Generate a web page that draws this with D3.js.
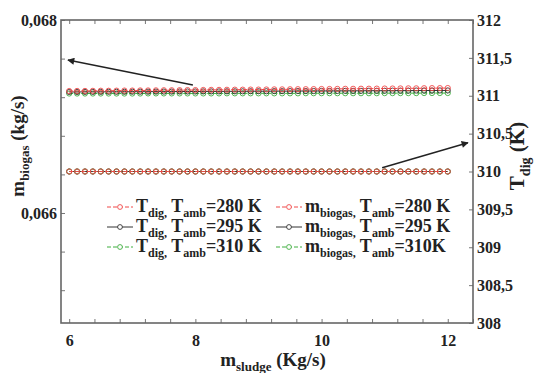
<!DOCTYPE html>
<html><head><meta charset="utf-8">
<script src="https://cdn.jsdelivr.net/npm/d3@7"></script>
<style>
body{margin:0;background:#fff}
svg{display:block}
text{font-family:"Liberation Serif","Times New Roman",serif;font-weight:bold;fill:#222}
</style>
</head><body>
<svg id="chart" width="534" height="373"></svg>
<script>
// Sludge mass flow (kg/s)
const sludgeFlow = [6, 6.125, 6.25, 6.375, 6.5, 6.625, 6.75, 6.875, 7, 7.125, 7.25, 7.375, 7.5, 7.625, 7.75, 7.875,
  8, 8.125, 8.25, 8.375, 8.5, 8.625, 8.75, 8.875, 9, 9.125, 9.25, 9.375, 9.5, 9.625, 9.75, 9.875,
  10, 10.125, 10.25, 10.375, 10.5, 10.625, 10.75, 10.875, 11, 11.125, 11.25, 11.375, 11.5, 11.625, 11.75, 11.875, 12];

// Digester temperature (K), right axis
const tDig280 = [310,310,310,310,310,310,310,310,310,310,310,310,310,310,310,310,310,310,310,310,310,310,310,310,310,
  310,310,310,310,310,310,310,310,310,310,310,310,310,310,310,310,310,310,310,310,310,310,310,310];
const tDig295 = [310,310,310,310,310,310,310,310,310,310,310,310,310,310,310,310,310,310,310,310,310,310,310,310,310,
  310,310,310,310,310,310,310,310,310,310,310,310,310,310,310,310,310,310,310,310,310,310,310,310];
const tDig310 = [310,310,310,310,310,310,310,310,310,310,310,310,310,310,310,310,310,310,310,310,310,310,310,310,310,
  310,310,310,310,310,310,310,310,310,310,310,310,310,310,310,310,310,310,310,310,310,310,310,310];

// Biogas mass flow (kg/s), left axis
const mBiogas280 = [0.067264,0.067265,0.067265,0.067266,0.067267,0.067267,0.067268,0.067269,0.067269,0.067270,
  0.067270,0.067271,0.067272,0.067272,0.067273,0.067274,0.067274,0.067275,0.067276,0.067276,
  0.067277,0.067278,0.067278,0.067279,0.067279,0.067280,0.067281,0.067281,0.067282,0.067283,
  0.067283,0.067284,0.067285,0.067285,0.067286,0.067287,0.067287,0.067288,0.067288,0.067289,
  0.067290,0.067290,0.067291,0.067292,0.067292,0.067293,0.067294,0.067294,0.067295];
const mBiogas295 = [0.067254,0.067254,0.067255,0.067255,0.067255,0.067256,0.067256,0.067256,0.067257,0.067257,
  0.067257,0.067258,0.067258,0.067258,0.067259,0.067259,0.067259,0.067260,0.067260,0.067260,
  0.067261,0.067261,0.067261,0.067262,0.067262,0.067262,0.067263,0.067263,0.067263,0.067264,
  0.067264,0.067264,0.067265,0.067265,0.067265,0.067266,0.067266,0.067266,0.067267,0.067267,
  0.067267,0.067268,0.067268,0.067268,0.067269,0.067269,0.067269,0.067270,0.067270];
const mBiogas310 = [0.067238,0.067238,0.067238,0.067238,0.067238,0.067238,0.067238,0.067238,0.067238,0.067238,
  0.067239,0.067239,0.067239,0.067239,0.067239,0.067239,0.067239,0.067239,0.067239,0.067239,
  0.067240,0.067240,0.067240,0.067240,0.067240,0.067240,0.067240,0.067240,0.067240,0.067240,
  0.067241,0.067241,0.067241,0.067241,0.067241,0.067241,0.067241,0.067241,0.067241,0.067241,
  0.067242,0.067242,0.067242,0.067242,0.067242,0.067243,0.067243,0.067243,0.067243];

// Tick values
const xMinorTicks = [6, 6.4, 6.8, 7.2, 7.6, 8, 8.4, 8.8, 9.2, 9.6, 10, 10.4, 10.8, 11.2, 11.6, 12, 12.4];
const xLabelTicks = [6, 8, 10, 12];
const leftMinorTicks = [0.068, 0.0676, 0.0672, 0.0668, 0.0664, 0.066, 0.0656, 0.0652];
const leftLabelTicks = [0.068, 0.066];
const rightTicks = [308, 308.5, 309, 309.5, 310, 310.5, 311, 311.5, 312];

const colors = {r: "#f04848", k: "#333333", g: "#3fae3f"};

const svg = d3.select("#chart");
const L = 61, R = 473, T = 20, B = 323;

const x = d3.scaleLinear().domain([5.87, 12.4]).range([L, R]);
const yL = d3.scaleLinear().domain([0.06486, 0.068]).range([B, T]);
const yR = d3.scaleLinear().domain([308, 312]).range([B, T]);

const comma = v => String(v).replace(".", ",");

// inward minor ticks on all four sides
function ticks(axis, tr) {
  const g = svg.append("g").attr("transform", tr).call(axis);
  g.select(".domain").remove();
  g.selectAll("line").attr("stroke", "#777").attr("stroke-width", 1);
  return g;
}
ticks(d3.axisBottom(x).tickValues(xMinorTicks).tickSize(-4).tickFormat(""), `translate(0,${B})`);
ticks(d3.axisTop(x).tickValues(xMinorTicks).tickSize(-4).tickFormat(""), `translate(0,${T})`);
ticks(d3.axisLeft(yL).tickValues(leftMinorTicks).tickSize(-4).tickFormat(""), `translate(${L},0)`);
ticks(d3.axisRight(yR).tickValues(rightTicks).tickSize(-4).tickFormat(""), `translate(${R},0)`);

// tick labels
function labels(axis, tr) {
  const g = svg.append("g").attr("transform", tr).call(axis);
  g.select(".domain").remove();
  g.selectAll("line").remove();
  g.selectAll("text").style("font-family", '"Liberation Serif",serif').style("font-weight", "bold")
    .style("font-size", "16px").attr("fill", "#222");
  return g;
}
labels(d3.axisBottom(x).tickValues(xLabelTicks).tickSize(0).tickPadding(12).tickFormat(comma), `translate(0,${B})`);
labels(d3.axisLeft(yL).tickValues(leftLabelTicks).tickSize(0).tickPadding(4).tickFormat(d => comma(d3.format(".3f")(d))), `translate(${L},0)`);
labels(d3.axisRight(yR).tickValues(rightTicks).tickSize(0).tickPadding(4).tickFormat(comma), `translate(${R},0)`);

// frame
svg.append("rect").attr("x", L).attr("y", T).attr("width", R - L).attr("height", B - T)
  .attr("fill", "none").attr("stroke", "#666").attr("stroke-width", 1.6);

// series (red drawn last so it sits on top)
const series = [
  {vals: tDig295, y: yR, c: colors.k, dash: null},
  {vals: tDig310, y: yR, c: colors.g, dash: "4,2"},
  {vals: tDig280, y: yR, c: colors.r, dash: "4,2"},
  {vals: mBiogas310, y: yL, c: colors.g, dash: "4,2"},
  {vals: mBiogas295, y: yL, c: colors.k, dash: null},
  {vals: mBiogas280, y: yL, c: colors.r, dash: "4,2"}
];
series.forEach(s => {
  const pts = sludgeFlow.map((v, i) => [v, s.vals[i]]);
  const line = d3.line().x(d => x(d[0])).y(d => s.y(d[1]));
  svg.append("path").datum(pts).attr("d", line).attr("fill", "none")
    .attr("stroke", s.c).attr("stroke-width", 1).attr("stroke-dasharray", s.dash);
  svg.append("g").selectAll("circle").data(pts).join("circle")
    .attr("cx", d => x(d[0])).attr("cy", d => s.y(d[1])).attr("r", 2.6)
    .attr("fill", "none").attr("stroke", s.c).attr("stroke-width", 0.9);
});

// arrows pointing each group to its axis
svg.append("defs").append("marker").attr("id", "ah").attr("viewBox", "0 0 10 10")
  .attr("refX", 9).attr("refY", 5).attr("markerWidth", 9).attr("markerHeight", 7)
  .attr("markerUnits", "userSpaceOnUse").attr("orient", "auto")
  .append("path").attr("d", "M0,0L10,5L0,10z").attr("fill", "#222");
svg.append("line").attr("x1", x(7.96)).attr("y1", yL(0.067326)).attr("x2", x(5.98)).attr("y2", yL(0.067585))
  .attr("stroke", "#222").attr("stroke-width", 1.4).attr("marker-end", "url(#ah)");
svg.append("line").attr("x1", x(10.96)).attr("y1", yR(310.05)).attr("x2", x(12.32)).attr("y2", yR(310.38))
  .attr("stroke", "#222").attr("stroke-width", 1.4).attr("marker-end", "url(#ah)");

// rich text with subscripts
function rich(g, parts, main, sub) {
  let shifted = false;
  parts.forEach(p => {
    const t = g.append("tspan").text(p.t);
    if (p.s && !shifted) { t.attr("dy", main * 0.28); shifted = true; }
    else if (!p.s && shifted) { t.attr("dy", -main * 0.28); shifted = false; }
    t.style("font-size", (p.s ? sub : main) + "px");
  });
}

// legend
const legend = [
  {x: 107, y: 212, c: colors.r, dash: "4,2", parts: [{t:"T"},{t:"dig,",s:1},{t:" T"},{t:"amb",s:1},{t:"=280 K"}]},
  {x: 107, y: 232, c: colors.k, dash: null, parts: [{t:"T"},{t:"dig,",s:1},{t:" T"},{t:"amb",s:1},{t:"=295 K"}]},
  {x: 107, y: 252, c: colors.g, dash: "4,2", parts: [{t:"T"},{t:"dig,",s:1},{t:" T"},{t:"amb",s:1},{t:"=310 K"}]},
  {x: 276, y: 212, c: colors.r, dash: "4,2", parts: [{t:"m"},{t:"biogas,",s:1},{t:" T"},{t:"amb",s:1},{t:"=280 K"}]},
  {x: 276, y: 232, c: colors.k, dash: null, parts: [{t:"m"},{t:"biogas,",s:1},{t:" T"},{t:"amb",s:1},{t:"=295 K"}]},
  {x: 276, y: 252, c: colors.g, dash: "4,2", parts: [{t:"m"},{t:"biogas,",s:1},{t:" T"},{t:"amb",s:1},{t:"=310K"}]}
];
legend.forEach(e => {
  const g = svg.append("g");
  g.append("line").attr("x1", e.x).attr("x2", e.x + 26).attr("y1", e.y - 5).attr("y2", e.y - 5)
    .attr("stroke", e.c).attr("stroke-width", 1).attr("stroke-dasharray", e.dash);
  g.append("circle").attr("cx", e.x + 13).attr("cy", e.y - 5).attr("r", 2.4)
    .attr("fill", "#fff").attr("stroke", e.c).attr("stroke-width", 0.9);
  rich(g.append("text").attr("x", e.x + 29).attr("y", e.y), e.parts, 18, 12);
});

// axis titles
rich(svg.append("text").attr("x", 273).attr("y", 366).attr("text-anchor", "middle"),
  [{t:"m"},{t:"sludge",s:1},{t:" (Kg/s)"}], 19, 13);
rich(svg.append("text").attr("transform", "translate(24,146) rotate(-90)").attr("text-anchor", "middle"),
  [{t:"m"},{t:"biogas",s:1},{t:" (kg/s)"}], 19, 13);
rich(svg.append("text").attr("transform", "translate(524,156) rotate(-90)").attr("text-anchor", "middle"),
  [{t:"T"},{t:"dig",s:1},{t:" (K)"}], 21, 14);
</script>
</body></html>
